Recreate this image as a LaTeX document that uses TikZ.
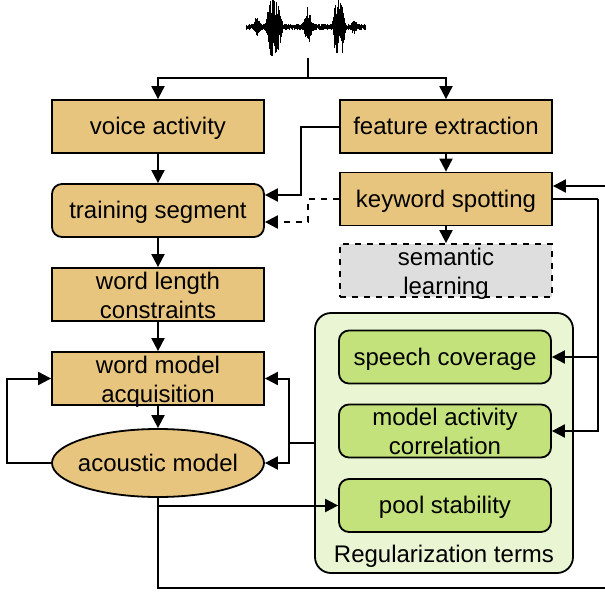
\documentclass[tikz,border=0pt]{standalone}
\usepackage{fontspec}
\setmainfont{Liberation Sans}
\usetikzlibrary{shapes.geometric,arrows.meta,calc}
\definecolor{tan}{HTML}{E8C57E}
\definecolor{grn}{HTML}{C4E27C}
\definecolor{lgrn}{HTML}{EAF5D3}
\definecolor{lgray}{HTML}{DEDEDE}
\begin{document}
\begin{tikzpicture}[x=0.5pt,y=-0.5pt,
  font=\fontsize{12}{14.5}\selectfont,
  box/.style = {draw, line width=0.9pt, fill=tan, minimum width=106pt, minimum height=26.5pt, inner sep=0pt, align=center, text height=11pt, text depth=2.6pt},
  two/.style = {text height=25.1pt, text depth=1.4pt},
  rbox/.style = {box, rounded corners=5pt},
  term/.style = {box, fill=grn, rounded corners=5pt},
  semb/.style = {box, fill=lgray, dashed},
  oval/.style = {draw, line width=0.9pt, fill=tan, ellipse, minimum width=106pt, minimum height=34pt, inner sep=0pt, text height=11pt, text depth=2.6pt},
  regb/.style = {draw, line width=0.9pt, fill=lgrn, rounded corners=8pt, minimum width=129pt, minimum height=130pt, inner sep=0pt},
  arr/.style = {line width=1pt, -{Triangle[length=6.5pt,width=6.5pt]}},
  ln/.style = {line width=1pt},
  wave/.style = {line width=0.5pt}]
	\useasboundingbox (0,0) rectangle (605,594);
	% waveform
	\pgfmathsetseed{11}
	\foreach \i in {0,...,299}{
		\pgfmathsetmacro{\xx}{246+0.4*\i}
		\pgfmathsetmacro{\ta}{min(((\xx-274)/7)^2,4.5)}
		\pgfmathsetmacro{\tb}{min(((\xx-339)/5.5)^2,4.5)}
		\pgfmathsetmacro{\env}{3+8*exp(-min(((\xx-257)/3)^2,20))+27*exp(-\ta*\ta)+17*exp(-min(((\xx-308)/3.5)^2,20))+25*exp(-\tb*\tb)+5*exp(-min(((\xx-354)/2)^2,20))}
		\pgfmathsetmacro{\up}{\env*(0.25+0.75*rnd)}
		\pgfmathsetmacro{\dn}{\env*(0.25+0.75*rnd)}
		\draw[wave] (\xx,27-\up) -- (\xx,27+\dn);
	}
	\coordinate (wv) at (308,58);
	\coordinate (split) at (308,78);
	% left column
	\node[box] (va) at (158,126.5) {voice activity};
	\node[rbox] (ts) at (158,210.5) {training segment};
	\node[box,two] (wl) at (158,294.5) {word length\\constraints};
	\node[box,two] (wm) at (158,378.5) {word model\\acquisition};
	\node[oval] (am) at (158,463) {\makebox[50pt]{acoustic model}};
	% right column
	\node[box] (fe) at (446,126.5) {feature extraction};
	\node[box] (ks) at (446,199) {keyword spotting};
	\node[semb,two] (sl) at (446,270.5) {semantic\\learning};
	\node[regb] (reg) at (444,443) {};
	\node (regl) at (444,556) {Regularization terms};
	\node[term] (sc) at (445,357) {speech coverage};
	\node[term,two] (mac) at (445,431) {model activity\\correlation};
	\node[term] (ps) at (445,505.5) {pool stability};
	% connectors
	\draw[ln] (wv) -- (split);
	\draw[arr] (split) -| (va);
	\draw[arr] (split) -| (fe);
	\draw[arr] (va) -- (ts);
	\draw[arr] (ts) -- (wl);
	\draw[arr] (wl) -- (wm);
	\draw[arr] (wm) -- (am);
	\draw[arr] (fe) -- (ks);
	\draw[arr] (ks) -- (sl);
	\draw[arr] (fe.west) -- ++(-38,0) |- ($(ts.east)+(0,-15.5)$);
	\draw[arr, dashed] (ks.west) -- ++(-31,0) |- ($(ts.east)+(0,11.5)$);
	\draw[ln] (ks.east) -- ++(45,0) coordinate (kr);
	\draw[arr] (kr) |- (mac.east);
	\draw[arr] (kr |- sc.east) -- (sc.east);
	\draw[arr] (am.west) -- ++(-44,0) |- (wm.west);
	\draw[ln] (reg.west) -- ++(-25,0) coordinate (rj);
	\draw[arr] (rj) |- (wm.east);
	\draw[arr] (rj) |- (am.east);
	\draw[arr] (am.south) |- (608,588) |- ($(ks.east)+(0,-13)$);
	\draw[arr] (am.south |- ps.west) -- (ps.west);
\end{tikzpicture}
\end{document}
